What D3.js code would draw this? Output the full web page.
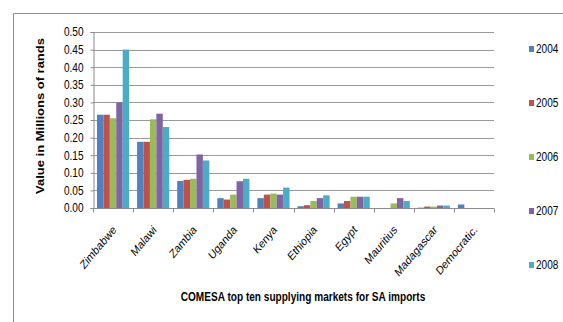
<!DOCTYPE html>
<html>
<head>
<meta charset="utf-8">
<script src="https://cdn.jsdelivr.net/npm/d3@7"></script>
<style>
  body { margin: 0; background: #fff; }
  svg text { font-family: "Liberation Sans", Arial, sans-serif; fill: #000; }
</style>
</head>
<body>
<svg id="chart" width="563" height="322"></svg>
<script>
// markets and years
const markets = ['Zimbabwe', 'Malawi', 'Zambia', 'Uganda', 'Kenya', 'Ethiopia', 'Egypt', 'Mauritius', 'Madagascar', 'Democratic.'];
const years = ['2004', '2005', '2006', '2007', '2008'];
const colors = ['#4F81BD', '#C0504D', '#9BBB59', '#8064A2', '#4BACC6'];

// values in millions of rands, one array per year
const v2004 = [0.265, 0.188, 0.077, 0.028, 0.028, 0.005, 0.013, 0, 0.001, 0.010];
const v2005 = [0.265, 0.188, 0.080, 0.024, 0.038, 0.008, 0.020, 0, 0.004, 0];
const v2006 = [0.255, 0.252, 0.083, 0.038, 0.041, 0.020, 0.032, 0.013, 0.004, 0];
const v2007 = [0.300, 0.268, 0.152, 0.076, 0.038, 0.028, 0.032, 0.028, 0.007, 0];
const v2008 = [0.450, 0.230, 0.135, 0.083, 0.058, 0.036, 0.032, 0.020, 0.007, 0];
const series = [v2004, v2005, v2006, v2007, v2008];

const yTicks = [0, 0.05, 0.1, 0.15, 0.2, 0.25, 0.3, 0.35, 0.4, 0.45, 0.5];

// the source picture is squeezed sideways, so every text gets this x scale
const SQ = 0.84;

const svg = d3.select('#chart');
const plot = {left: 93, right: 494, top: 32, bottom: 208};

// outer frame (only top and left edges show in the crop)
svg.append('path')
  .attr('d', 'M13.5,322 V13.5 H563')
  .attr('fill', 'none')
  .attr('stroke', '#8c8c8c')
  .attr('stroke-width', 1);

const x = d3.scaleBand().domain(markets).range([plot.left, plot.right]).paddingInner(0).paddingOuter(0);
const xInner = d3.scaleBand().domain(years).range([0, x.bandwidth()]).paddingOuter(0.62).paddingInner(0);
const y = d3.scaleLinear().domain([0, 0.5]).range([plot.bottom, plot.top]);

// gridlines
svg.append('g')
  .selectAll('line')
  .data(yTicks.slice(1))
  .join('line')
  .attr('x1', plot.left)
  .attr('x2', plot.right)
  .attr('y1', d => Math.round(y(d)) + 0.5)
  .attr('y2', d => Math.round(y(d)) + 0.5)
  .attr('stroke', '#9a9a9a')
  .attr('stroke-width', 1);

// bars
const groups = svg.append('g')
  .selectAll('g')
  .data(years)
  .join('g')
  .attr('fill', (d, i) => colors[i]);
groups.selectAll('rect')
  .data((yr, i) => markets.map((m, j) => ({m, yr, v: series[i][j]})))
  .join('rect')
  .attr('x', d => x(d.m) + xInner(d.yr))
  .attr('width', xInner.bandwidth())
  .attr('y', d => y(d.v))
  .attr('height', d => plot.bottom - y(d.v));

// y axis
const yAxis = svg.append('g')
  .attr('transform', `translate(${plot.left + 0.5},0)`)
  .call(d3.axisLeft(y).tickValues(yTicks).tickFormat(d3.format('.2f')).tickSize(3).tickPadding(6));
yAxis.select('.domain').attr('stroke', '#8c8c8c');
yAxis.selectAll('.tick line').attr('stroke', '#8c8c8c');
yAxis.selectAll('text')
  .attr('x', -10 / SQ)
  .attr('transform', `scale(${SQ},1)`)
  .style('font-size', '12px');

// x axis: ticks on category boundaries
const xAxisG = svg.append('g').attr('transform', `translate(0,${plot.bottom + 0.5})`);
xAxisG.append('line')
  .attr('x1', plot.left).attr('x2', plot.right)
  .attr('stroke', '#8c8c8c');
xAxisG.selectAll('line.tk')
  .data(markets.map(m => x(m)).concat([plot.right]))
  .join('line')
  .attr('class', 'tk')
  .attr('x1', d => Math.round(d) + 0.5)
  .attr('x2', d => Math.round(d) + 0.5)
  .attr('y1', 0).attr('y2', 4)
  .attr('stroke', '#8c8c8c');
xAxisG.selectAll('text')
  .data(markets)
  .join('text')
  .attr('transform', d => `translate(${x(d) + x.bandwidth() / 2 + 4},${22}) scale(${SQ},1) rotate(-45)`)
  .attr('text-anchor', 'end')
  .style('font-size', '12px')
  .text(d => d);

// axis titles
svg.append('text')
  .attr('transform', `translate(44,116) scale(${SQ},1) rotate(-90)`)
  .attr('text-anchor', 'middle')
  .style('font-size', '13px')
  .style('font-weight', 'bold')
  .text('Value in Millions of rands');
svg.append('text')
  .attr('transform', `translate(303,301) scale(${SQ},1)`)
  .attr('text-anchor', 'middle')
  .style('font-size', '12px')
  .style('font-weight', 'bold')
  .text('COMESA top ten supplying markets for SA imports');

// legend
const legend = svg.append('g')
  .selectAll('g')
  .data(years)
  .join('g')
  .attr('transform', (d, i) => `translate(529,${49 + i * 54})`);
legend.append('rect')
  .attr('x', 0).attr('y', -3)
  .attr('width', 5).attr('height', 6)
  .attr('fill', (d, i) => colors[i]);
legend.append('text')
  .attr('transform', `translate(7,0) scale(${SQ},1)`)
  .attr('dy', '0.35em')
  .style('font-size', '12px')
  .text(d => d);
</script>
</body>
</html>
